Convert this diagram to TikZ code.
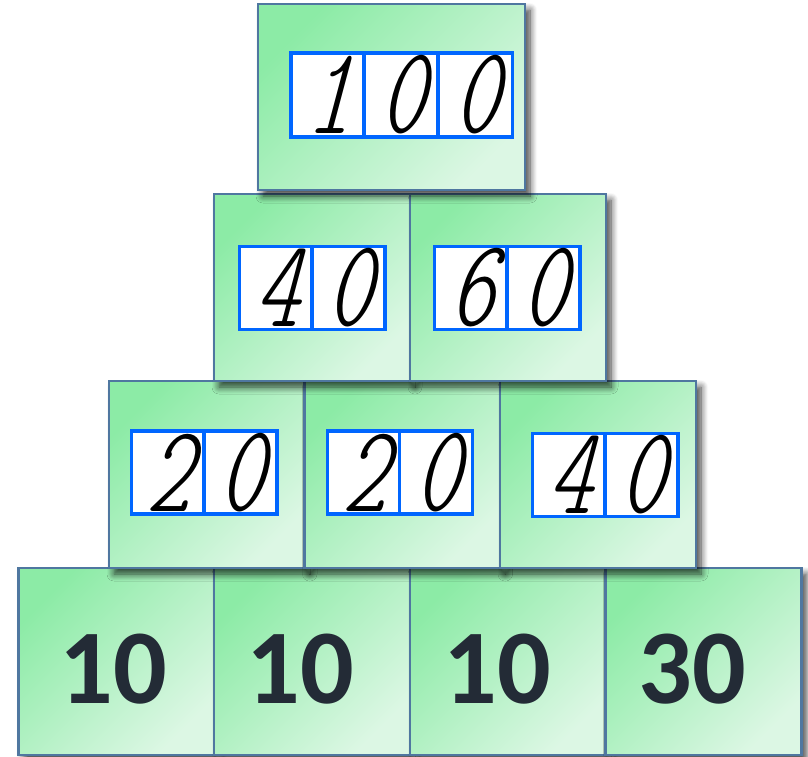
\documentclass[tikz,border=0pt]{standalone}
\usepackage{fontspec}
\newfontfamily\numfont{Carlito}
\newfontfamily\handfont{lmmonoltcond10-oblique.otf}[FakeSlant=0.1]
\usetikzlibrary{shadows.blur}
\definecolor{gtop}{HTML}{8CEBA6}
\definecolor{gbot}{HTML}{DCF7E4}
\definecolor{edge}{HTML}{4F77A0}
\definecolor{cellblue}{HTML}{0066FF}
\definecolor{numcol}{HTML}{232B36}
\tikzset{
  card/.style={draw=edge, line width=2.4pt, top color=gtop, bottom color=gbot,
    shading angle=45, minimum width=196pt, minimum height=187pt, inner sep=0pt,
    blur shadow={shadow xshift=5pt, shadow yshift=-6pt, shadow blur steps=8,
      shadow blur radius=7pt, shadow opacity=75}},
  bigcard/.style={card, minimum width=267pt, minimum height=186pt},
  cell/.style={draw=cellblue, line width=3.8pt, fill=white, minimum width=73pt,
    minimum height=83pt, inner sep=0pt, font=\handfont\fontsize{124}{124}\selectfont, text=black},
  numlabel/.style={font=\numfont\bfseries\fontsize{106}{106}\selectfont, text=numcol, inner sep=0pt}
}
\begin{document}
\begin{tikzpicture}[x=1pt,y=-1pt]
\useasboundingbox (0,0) rectangle (808,756);
% row 4
\node[card] (d1) at (116.5,661.5) {};
\node[card] (d2) at (312,661.5) {};
\node[card] (d3) at (508,661.5) {};
\node[card] (d4) at (703.5,661.5) {};
\node[numlabel] (n1) at (113,669) {10};
\node[numlabel] (n2) at (300,669) {10};
\node[numlabel] (n3) at (497,669) {10};
\node[numlabel] (n4) at (692,669) {30};
% row 3
\node[card] (c1) at (207,474.5) {};
\node[card] (c2) at (402.5,474.5) {};
\node[card] (c3) at (598,474.5) {};
\node[cell] (c1a) at (168,472.5) {2};
\node[cell] (c1b) at (240.5,472.5) {0};
\node[cell] (c2a) at (364,472.5) {2};
\node[cell] (c2b) at (436,472.5) {0};
\node[cell] (c3a) at (569,475) {4};
\node[cell] (c3b) at (641.5,475) {0};
% row 2
\node[card] (b1) at (312,287.5) {};
\node[card] (b2) at (508,287.5) {};
\node[cell] (b1a) at (276,288) {4};
\node[cell] (b1b) at (348.5,288) {0};
\node[cell] (b2a) at (471,288) {6};
\node[cell] (b2b) at (543.5,288) {0};
% row 1
\node[bigcard] (a1) at (391.5,97) {};
\node[cell, minimum width=74pt, minimum height=84pt] (a1a) at (328,95) {1};
\node[cell, minimum width=74pt, minimum height=84pt] (a1b) at (401,95) {0};
\node[cell, minimum width=74pt, minimum height=84pt] (a1c) at (475.5,95) {0};
\end{tikzpicture}
\end{document}
